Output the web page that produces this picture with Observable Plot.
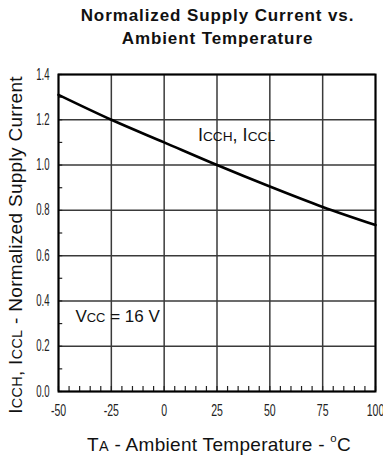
<!DOCTYPE html>
<html><head><meta charset="utf-8">
<script src="https://cdn.jsdelivr.net/npm/d3@7"></script>
<script src="https://cdn.jsdelivr.net/npm/@observablehq/plot@0.6"></script>
<style>
body{margin:0;background:#fff;}
#title{font-family:"Liberation Sans",Arial,sans-serif;font-weight:bold;font-size:17px;letter-spacing:0.9px;line-height:23px;text-align:center;padding-left:52px;padding-top:4px;height:56px;width:331px;color:#111;}
#chart svg{display:block;}
</style></head><body>
<div id="title">Normalized Supply Current vs.<br>Ambient Temperature</div>
<div id="chart"></div>
<script>
// Data
const temperature = [-50, -25, 0, 25, 50, 75, 100];
const supplyCurrent = [1.31, 1.20, 1.10, 1.00, 0.905, 0.815, 0.735];
const xTicks = [-50, -25, 0, 25, 50, 75, 100];
const yTicks = [0, 0.2, 0.4, 0.6, 0.8, 1.0, 1.2, 1.4];
const curveLabel = ["ICCH, ICCL"];
const curveLabelAt = [16, 1.105];
const condLabel = ["VCC = 16 V"];
const condLabelAt = [-42, 0.305];
const xLabel = "TA - Ambient Temperature - oC";
const yLabel = "ICCH, ICCL - Normalized Supply Current";

// rich text (subscripts / superscript) segments
const rich = {
  "ICCH, ICCL": [["I"], ["CCH", "sub"], [", I"], ["CCL", "sub"]],
  "VCC = 16 V": [["V"], ["CC", "sub"], [" = 16 V"]],
  [xLabel]: [["T"], ["A", "sub"], [" - Ambient Temperature - "], ["o", "sup"], ["C", "after"]],
  [yLabel]: [["I"], ["CCH", "sub"], [", I"], ["CCL", "sub"], [" - Normalized Supply Current"]]
};

const data = temperature.map((t, i) => ({t, v: supplyCurrent[i]}));
const xMinor = d3.range(-50, 100.1, 5);
const yMinor = d3.range(0, 1.41, 0.1);

const labelFont = "'Liberation Sans', Arial, sans-serif";

const plot = Plot.plot({
  width: 383,
  height: 399,
  marginTop: 14,
  marginBottom: 68,
  marginLeft: 58,
  marginRight: 8,
  style: {fontFamily: "'Liberation Sans',Arial,sans-serif", fontSize: "13px", color: "#111", background: "#fff"},
  x: {domain: [-50, 100]},
  y: {domain: [0, 1.4]},
  marks: [
    Plot.ruleX(xTicks, {stroke: "#3a3a3a", strokeWidth: 1.5}),
    Plot.ruleY(yTicks, {stroke: "#3a3a3a", strokeWidth: 1.5}),
    Plot.ruleX(xMinor, {y1: 0, y2: 0.022, stroke: "#222", strokeWidth: 1.2}),
    Plot.ruleY(yMinor, {x1: -50, x2: -48, stroke: "#222", strokeWidth: 1.2}),
    Plot.frame({stroke: "#000", strokeWidth: 2}),
    Plot.axisX(xTicks, {tickSize: 0, tickPadding: 12, tickFormat: d => String(d), label: null, fontSize: 17, fill: "#222"}),
    Plot.axisY(yTicks, {tickSize: 0, tickPadding: 9, tickFormat: d => d.toFixed(1), label: null, fontSize: 16, fill: "#222"}),
    Plot.line(data, {x: "t", y: "v", stroke: "#000", strokeWidth: 2.6, curve: "monotone-x"}),
    Plot.text(curveLabel, {x: () => curveLabelAt[0], y: () => curveLabelAt[1], text: d => d, textAnchor: "start", lineAnchor: "bottom", fontSize: 18, fontFamily: labelFont, fill: "#111"}),
    Plot.text(condLabel, {x: () => condLabelAt[0], y: () => condLabelAt[1], text: d => d, textAnchor: "start", lineAnchor: "bottom", fontSize: 17, fontFamily: labelFont, fill: "#111"}),
    Plot.text([xLabel], {frameAnchor: "bottom", text: d => d, textAnchor: "middle", lineAnchor: "bottom", dy: 59, dx: 2, fontSize: 19, fontFamily: labelFont, fill: "#111"}),
    Plot.text([yLabel], {frameAnchor: "left", text: d => d, textAnchor: "middle", rotate: -90, lineAnchor: "bottom", dx: -37, dy: 12, fontSize: 19, fontFamily: labelFont, fill: "#111"})
  ]
});

// condensed tick labels (the reference uses a narrow face)
d3.select(plot).selectAll('g[aria-label="x-axis tick label"] text').each(function() {
  const t = this.getAttribute("transform") || "";
  this.setAttribute("transform", t + " scale(0.62,1)");
});
d3.select(plot).selectAll('g[aria-label="y-axis tick label"] text').each(function() {
  const t = this.getAttribute("transform") || "";
  this.setAttribute("transform", t + " scale(0.6,1)");
});

// apply sub/superscripts as tspans
d3.select(plot).selectAll("text").each(function() {
  const el = this;
  if (el.querySelector("tspan")) return;
  const segs = rich[el.textContent];
  if (!segs) return;
  el.textContent = "";
  for (const [s, kind] of segs) {
    const ts = document.createElementNS("http://www.w3.org/2000/svg", "tspan");
    ts.textContent = s;
    if (kind === "sub") ts.setAttribute("font-size", "0.76em");
    if (kind === "sup") { ts.setAttribute("font-size", "0.6em"); ts.setAttribute("dy", "-0.75em"); }
    if (kind === "after") ts.setAttribute("dy", "0.45em");
    el.appendChild(ts);
  }
  if (el.textContent === xLabel || el.textContent === yLabel) el.setAttribute("letter-spacing", "0.3");
});

document.getElementById("chart").appendChild(plot);
</script>
</body></html>
